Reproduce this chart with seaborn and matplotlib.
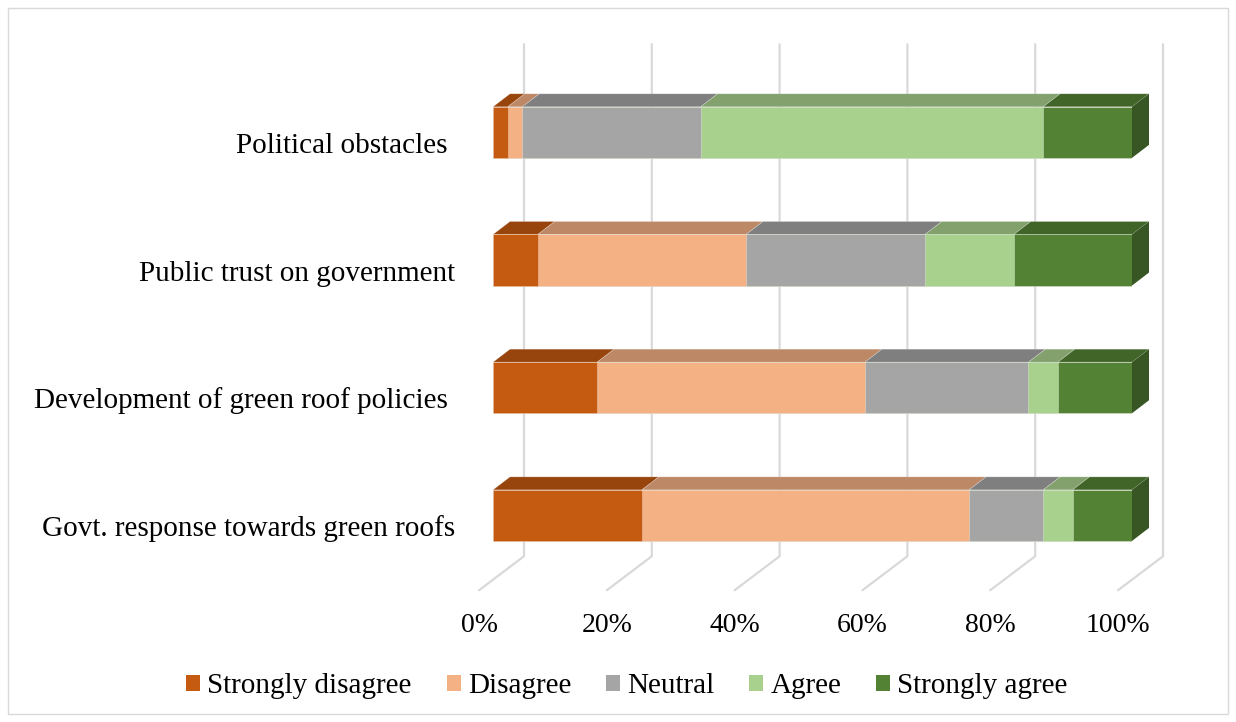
import matplotlib
matplotlib.use("Agg")
import numpy as np
import pandas as pd
import matplotlib.pyplot as plt
import seaborn as sns
from matplotlib.patches import Polygon, Patch, Rectangle
from matplotlib.transforms import ScaledTranslation
from matplotlib.colors import to_rgb

# ---- data (percent of respondents) ----
categories = [
    "Political obstacles ",
    "Public trust on government",
    "Development of green roof policies ",
    "Govt. response towards green roofs",
]
levels = ["Strongly disagree", "Disagree", "Neutral", "Agree", "Strongly agree"]
strongly_disagree = [2.3, 7.0, 16.3, 23.3]
disagree = [2.3, 32.6, 41.9, 51.2]
neutral = [27.9, 28.0, 25.6, 11.6]
agree = [53.6, 13.9, 4.6, 4.6]
strongly_agree = [13.9, 18.5, 11.6, 9.3]
tick_values = [0, 20, 40, 60, 80, 100]
tick_labels = ["0%", "20%", "40%", "60%", "80%", "100%"]

colors = ["#C55A11", "#F4B183", "#A5A5A5", "#A9D18E", "#548235"]
GRID = "#D9D9D9"

# ---- styling / geometry ----
sns.set_theme(style="white")
plt.rcParams["font.family"] = ["Liberation Serif", "DejaVu Serif"]
FS = 21
FS_TICK = 20

W, H, DPI = 1236, 722, 100
BAR_W = 0.40
Y_TOP, Y_BOT = -0.51, 3.5
BAR_DEPTH = (17, 13)      # top/side face offset in pixels (right, up)
WALL = (31, 23)           # back wall relative to the bar front plane
FLOOR_FRONT = (-14, -11)  # front edge of the floor relative to the bar front plane

fig = plt.figure(figsize=(W / DPI, H / DPI), dpi=DPI)
fig.patch.set_facecolor("white")
fig.add_artist(Rectangle((8 / W, 8 / H), 1220 / W, 706 / H, transform=fig.transFigure,
                         fill=False, edgecolor=GRID, linewidth=1.0))

left_px, right_px = 493, 1132
top_px, bot_px = 67.2, 579.25
ax = fig.add_axes([left_px / W, 1 - bot_px / H, (right_px - left_px) / W, (bot_px - top_px) / H])

df = pd.DataFrame({
    "category": categories,
    "Strongly disagree": strongly_disagree,
    "Disagree": disagree,
    "Neutral": neutral,
    "Agree": agree,
    "Strongly agree": strongly_agree,
})
cum = df[levels].cumsum(axis=1)
cum["category"] = df["category"]

# front faces: cumulative bars drawn from the longest to the shortest
for level, color in zip(reversed(levels), reversed(colors)):
    sns.barplot(data=cum, x=level, y="category", order=categories, orient="h",
                color=color, saturation=1, width=BAR_W, errorbar=None,
                edgecolor=(1, 1, 1, 0.35), linewidth=0.6, ax=ax, zorder=3)

ax.set_xlim(0, 100)
ax.set_ylim(Y_BOT, Y_TOP)
for s in ax.spines.values():
    s.set_visible(False)
ax.set_xticks([])
ax.set_yticks([])
ax.set_xlabel("")
ax.set_ylabel("")
ax.set_facecolor("none")


def shifted(x, y, d):
    px, py = ax.transData.transform((x, y))
    return ax.transData.inverted().transform((px + d[0], py + d[1]))


def shade(color, f):
    r, g, b = to_rgb(color)
    return (r * f, g * f, b * f)


# back wall gridlines and floor lines
for t in tick_values:
    top = shifted(t, Y_TOP, WALL)
    bot = shifted(t, Y_BOT, WALL)
    front = shifted(t, Y_BOT, FLOOR_FRONT)
    ax.plot([top[0], bot[0], front[0]], [top[1], bot[1], front[1]], color=GRID,
            linewidth=1.6, clip_on=False, zorder=0.5, solid_joinstyle="miter")

# top faces and the right-hand side face
for i, cat in enumerate(categories):
    y_top = i - BAR_W / 2
    y_bot = i + BAR_W / 2
    start = 0.0
    row = df.loc[i, levels].to_numpy(dtype=float)
    for val, color in zip(row, colors):
        end = start + val
        verts = [(start, y_top), (end, y_top), shifted(end, y_top, BAR_DEPTH),
                 shifted(start, y_top, BAR_DEPTH)]
        ax.add_patch(Polygon(verts, closed=True, facecolor=shade(color, 0.77),
                             edgecolor=(1, 1, 1, 0.3), linewidth=0.5, clip_on=False, zorder=2.5))
        start = end
    side = [(start, y_top), (start, y_bot), shifted(start, y_bot, BAR_DEPTH),
            shifted(start, y_top, BAR_DEPTH)]
    ax.add_patch(Polygon(side, closed=True, facecolor=shade(colors[-1], 0.66),
                         edgecolor="none", clip_on=False, zorder=2.5))

# axis labels
for t, lab in zip(tick_values, tick_labels):
    ax.text(t, Y_BOT, lab, fontsize=FS_TICK, ha="center", va="baseline", color="black",
            transform=ax.transData + ScaledTranslation(FLOOR_FRONT[0] / DPI, -53 / DPI, fig.dpi_scale_trans))

for i, cat in enumerate(categories):
    ax.text(0, i, cat, fontsize=FS, ha="right", va="baseline", color="black",
            transform=ax.get_yaxis_transform() + ScaledTranslation(-38 / DPI, -20.5 / DPI, fig.dpi_scale_trans))

handles = [Patch(facecolor=c, edgecolor="none") for c in colors]
fig.legend(handles, levels, loc="center", bbox_to_anchor=(627 / W, 1 - 686 / H), ncol=5,
           frameon=False, fontsize=FS, labelcolor="black", handlelength=0.48, handleheight=0.48,
           handletextpad=0.24, columnspacing=1.2, borderaxespad=0)

fig.savefig("out.png", dpi=DPI, facecolor="white")
